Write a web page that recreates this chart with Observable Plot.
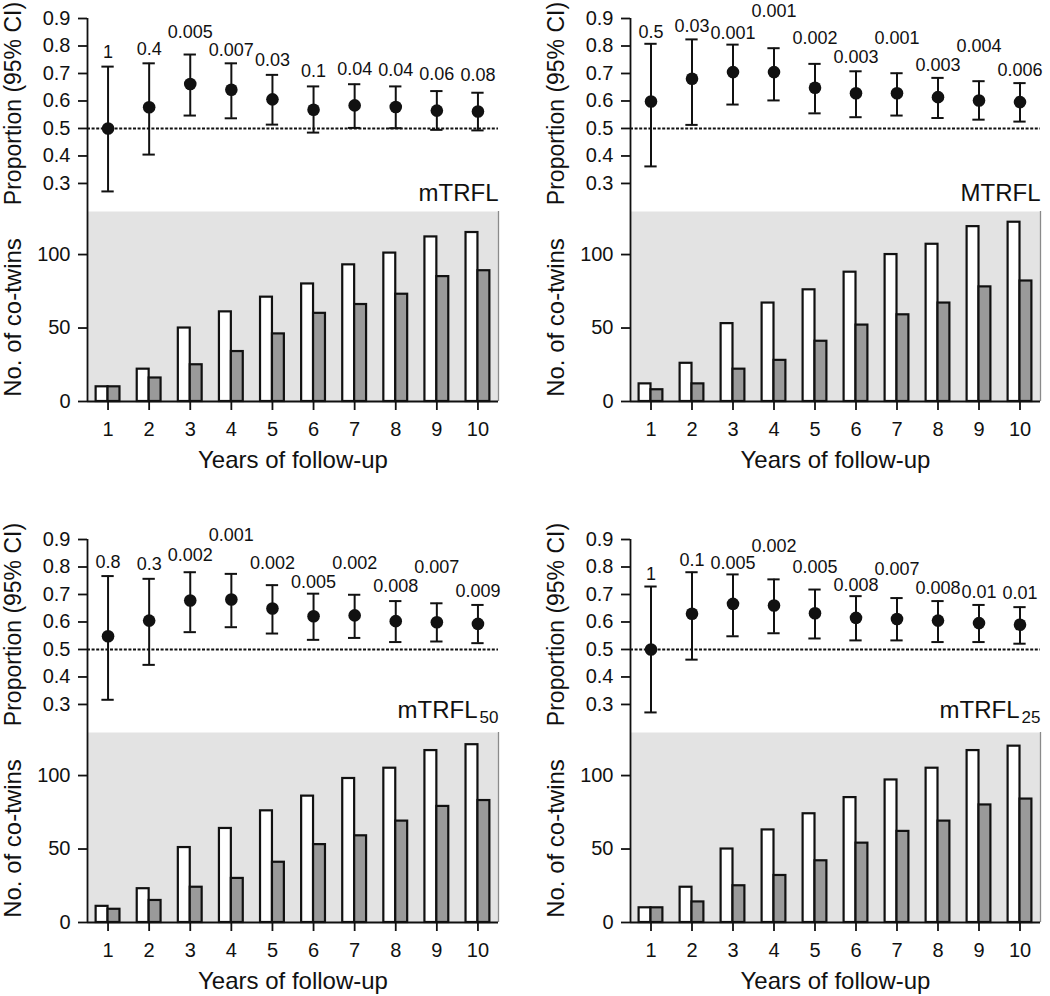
<!DOCTYPE html>
<html><head><meta charset="utf-8">
<script src="https://cdn.jsdelivr.net/npm/d3@7"></script>
<script src="https://cdn.jsdelivr.net/npm/@observablehq/plot@0.6"></script>
<style>
body{margin:0;background:#fff;}
#chart{position:relative;width:1050px;height:996px;overflow:hidden;}
#chart svg{position:absolute;overflow:visible;}
</style></head><body><div id="chart"></div>
<script>
const FONT = '"Liberation Sans", Arial, Helvetica, sans-serif';
const years = [1,2,3,4,5,6,7,8,9,10];
const propTicks = [0.3,0.4,0.5,0.6,0.7,0.8,0.9];
const countTicks = [0,50,100];
const panelNames = ["mTRFL","MTRFL","mTRFL","mTRFL"];
const panelSubs = ["","","50","25"];
const yTitleTop = "Proportion (95% CI)";
const yTitleBottom = "No. of co-twins";
const xTitle = "Years of follow-up";

// Panel A: mTRFL
const estA = [0.50,0.577,0.662,0.641,0.606,0.568,0.584,0.578,0.565,0.562];
const loA  = [0.271,0.405,0.547,0.537,0.514,0.485,0.502,0.501,0.495,0.493];
const hiA  = [0.725,0.737,0.769,0.737,0.695,0.653,0.661,0.653,0.636,0.630];
const pA   = ["1","0.4","0.005","0.007","0.03","0.1","0.04","0.04","0.06","0.08"];
const lyA  = [0.778,0.79,0.85,0.786,0.75,0.709,0.714,0.711,0.696,0.693];
const whiteA = [10,22,50,61,71,80,93,101,112,115];
const grayA  = [10,16,25,34,46,60,66,73,85,89];

// Panel B: MTRFL
const estB = [0.598,0.681,0.705,0.705,0.648,0.628,0.628,0.614,0.602,0.596];
const loB  = [0.362,0.513,0.587,0.602,0.555,0.541,0.547,0.538,0.532,0.525];
const hiB  = [0.808,0.824,0.805,0.792,0.735,0.708,0.701,0.684,0.672,0.665];
const pB   = ["0.5","0.03","0.001","0.001","0.002","0.003","0.001","0.003","0.004","0.006"];
const lyB  = [0.85,0.871,0.848,0.925,0.83,0.759,0.83,0.729,0.799,0.711];
const whiteB = [12,26,53,67,76,88,100,107,119,122];
const grayB  = [8,12,22,28,41,52,59,67,78,82];

// Panel C: mTRFL50
const estC = [0.548,0.605,0.678,0.682,0.649,0.621,0.624,0.603,0.599,0.593];
const loC  = [0.317,0.444,0.563,0.581,0.558,0.535,0.542,0.527,0.529,0.523];
const hiC  = [0.767,0.757,0.781,0.775,0.734,0.703,0.699,0.676,0.668,0.662];
const pC   = ["0.8","0.3","0.002","0.001","0.002","0.005","0.002","0.008","0.007","0.009"];
const lyC  = [0.817,0.809,0.842,0.917,0.814,0.745,0.814,0.729,0.799,0.712];
const whiteC = [11,23,51,64,76,86,98,105,117,121];
const grayC  = [9,15,24,30,41,53,59,69,79,83];

// Panel D: mTRFL25
const estD = [0.50,0.63,0.666,0.66,0.632,0.615,0.611,0.605,0.596,0.59];
const loD  = [0.271,0.463,0.548,0.559,0.54,0.533,0.533,0.527,0.527,0.521];
const hiD  = [0.729,0.781,0.773,0.755,0.718,0.694,0.687,0.676,0.662,0.654];
const pD   = ["1","0.1","0.005","0.002","0.005","0.008","0.007","0.008","0.01","0.01"];
const lyD  = [0.773,0.826,0.814,0.876,0.799,0.733,0.793,0.724,0.708,0.703];
const whiteD = [10,24,50,63,74,85,97,105,117,120];
const grayD  = [10,14,25,32,42,54,62,69,80,84];

const panels = [
  {name: panelNames[0], sub: panelSubs[0], est: estA, lo: loA, hi: hiA, p: pA, ly: lyA, white: whiteA, gray: grayA},
  {name: panelNames[1], sub: panelSubs[1], est: estB, lo: loB, hi: hiB, p: pB, ly: lyB, white: whiteB, gray: grayB},
  {name: panelNames[2], sub: panelSubs[2], est: estC, lo: loC, hi: hiC, p: pC, ly: lyC, white: whiteC, gray: grayC},
  {name: panelNames[3], sub: panelSubs[3], est: estD, lo: loD, hi: hiD, p: pD, ly: lyD, white: whiteD, gray: grayD}
];
const layout = [
  {left: 0, top: 0, ml: 87, mr: 27},
  {left: 525, top: 0, ml: 105, mr: 10},
  {left: 0, top: 521, ml: 87, mr: 27},
  {left: 525, top: 521, ml: 105, mr: 10}
];
const propDomain = [0.198, 0.9655];
const countDomain = [0, 129.3];
const xDomain = [0.5, 10.5];
const capW = 0.15, barW = 0.29;
const style = {fontFamily: FONT, color: "#111", background: "transparent", overflow: "visible"};

function topPlot(P, L) {
  const rows = years.map((y, i) => ({year: y, est: P.est[i], lo: P.lo[i], hi: P.hi[i], p: P.p[i], ly: P.ly[i]}));
  return Plot.plot({
    width: 525, height: 211, marginLeft: L.ml, marginRight: L.mr, marginTop: 0, marginBottom: 0,
    style,
    x: {domain: xDomain, axis: null},
    y: {domain: propDomain, axis: null},
    marks: [
      Plot.ruleY([0.5], {strokeDasharray: "3,1.6", strokeWidth: 2}),
      Plot.ruleX([0.5], {y1: propTicks[propTicks.length - 1], y2: propDomain[0], strokeWidth: 1.8}),
      Plot.axisY(propTicks, {anchor: "left", label: null, tickSize: 9, tickPadding: 8, tickFormat: d3.format(".1f"), fontSize: 20, strokeWidth: 1.8}),
      Plot.ruleX(rows, {x: "year", y1: "lo", y2: "hi", strokeWidth: 2}),
      Plot.ruleY(rows, {y: "hi", x1: d => d.year - capW, x2: d => d.year + capW, strokeWidth: 2}),
      Plot.ruleY(rows, {y: "lo", x1: d => d.year - capW, x2: d => d.year + capW, strokeWidth: 2}),
      Plot.dot(rows, {x: "year", y: "est", r: 6.3, fill: "#111"}),
      Plot.text(rows, {x: "year", y: "ly", text: "p", fontSize: 18}),
      Plot.text([P.name], {frameAnchor: "bottom-right", dx: P.sub ? -21 : 0, dy: P.sub ? -15 : -11, fontSize: 24}),
      P.sub ? Plot.text([P.sub], {frameAnchor: "bottom-right", dy: -10, fontSize: 17}) : null,
      Plot.text([yTitleTop], {frameAnchor: "left", dx: -67, dy: -2.5, rotate: -90, lineAnchor: "bottom", textAnchor: "middle", fontSize: 23})
    ]
  });
}

function bottomPlot(P, L) {
  const rows = years.map((y, i) => ({year: y, white: P.white[i], gray: P.gray[i]}));
  return Plot.plot({
    width: 525, height: 264, marginLeft: L.ml, marginRight: L.mr, marginTop: 0, marginBottom: 74,
    style,
    x: {domain: xDomain, axis: null},
    y: {domain: countDomain, axis: null},
    marks: [
      Plot.frame({fill: "#e3e3e3", stroke: "none"}),
      Plot.ruleX([xDomain[1]], {stroke: "#8a8a8a", strokeWidth: 1.3}),
      Plot.rect(rows, {x1: d => d.year - barW, x2: "year", y1: 0, y2: "white", fill: "white", stroke: "#111", strokeWidth: 2.2}),
      Plot.rect(rows, {x1: "year", x2: d => d.year + barW, y1: 0, y2: "gray", fill: "#9a9a9a", stroke: "#111", strokeWidth: 2.2}),
      Plot.ruleY([0], {strokeWidth: 1.8}),
      Plot.ruleX([xDomain[0]], {strokeWidth: 1.8}),
      Plot.axisY(countTicks, {anchor: "left", label: null, tickSize: 9, tickPadding: 8, fontSize: 20, strokeWidth: 1.8}),
      Plot.axisX(years, {anchor: "bottom", label: null, tickSize: 9, tickPadding: 11, fontSize: 20, strokeWidth: 1.8}),
      Plot.text([xTitle], {frameAnchor: "bottom", dy: 66, fontSize: 24}),
      Plot.text([yTitleBottom], {frameAnchor: "left", dx: -67, dy: 11, rotate: -90, lineAnchor: "bottom", textAnchor: "middle", fontSize: 24})
    ]
  });
}

const chart = document.getElementById("chart");
panels.forEach((P, k) => {
  const L = layout[k];
  const t = topPlot(P, L);
  t.style.left = L.left + "px"; t.style.top = L.top + "px";
  const b = bottomPlot(P, L);
  b.style.left = L.left + "px"; b.style.top = (L.top + 211) + "px";
  chart.append(b);
  chart.append(t);
});
</script></body></html>
